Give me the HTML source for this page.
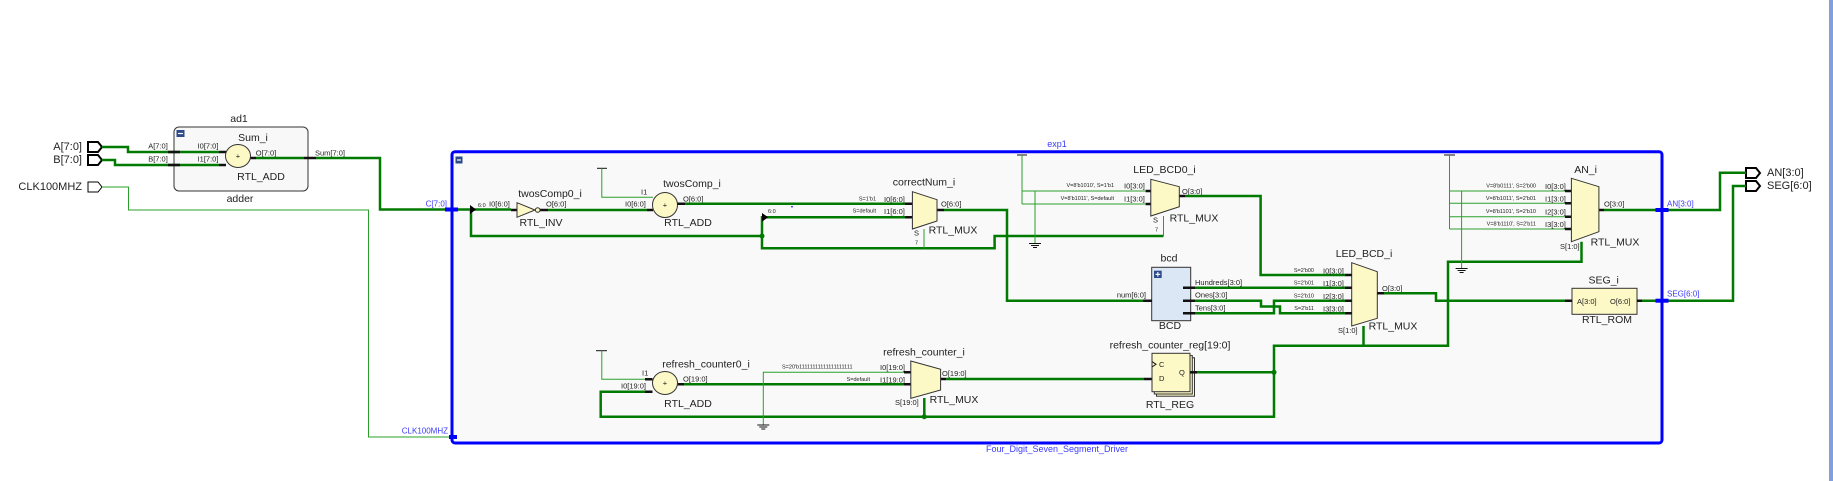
<!DOCTYPE html>
<html><head><meta charset="utf-8"><style>
html,body{margin:0;padding:0;background:#fff;}
svg{display:block;font-family:"Liberation Sans",Arial,sans-serif;}
.g{stroke:#007a00;stroke-width:2.5;fill:none;}
.t{stroke:#2aa02a;stroke-width:1;fill:none;}
.k{stroke:#111;stroke-width:2.5;fill:none;}
.k1{stroke:#111;stroke-width:1;fill:none;}
.y{fill:#fdf9c6;stroke:#333;stroke-width:1;}
text{fill:#222;dominant-baseline:central;}
.L{font-size:11px;}
.M{font-size:10.5px;}
.P{font-size:7.5px;}
.X{font-size:5.5px;}
.B{font-size:8px;fill:#3a3aff;}
.BT{font-size:9px;fill:#3a3aff;}
.c{text-anchor:middle;}
.e{text-anchor:end;}
</style></head><body>
<svg width="1833" height="481" viewBox="0 0 1833 481" xmlns="http://www.w3.org/2000/svg">
<rect x="0" y="0" width="1833" height="481" fill="#fff"/>
<rect x="1829" y="0" width="4" height="481" fill="#7f9fdf"/>

<!-- top-level ports -->
<polygon points="88,142 98,142 102,147 98,152 88,152" fill="#fff" stroke="#000" stroke-width="2"/>
<polygon points="88,155 98,155 102,160 98,165 88,165" fill="#fff" stroke="#000" stroke-width="2"/>
<polygon points="88,182 98,182 102,187 98,192 88,192" fill="#fff" stroke="#000" stroke-width="1"/>
<text class="L e" x="82" y="147">A[7:0]</text>
<text class="L e" x="82" y="160">B[7:0]</text>
<text class="L e" x="82" y="187">CLK100MHZ</text>

<polygon points="1746,168 1756,168 1760,173 1756,178 1746,178" fill="#fff" stroke="#000" stroke-width="2"/>
<polygon points="1746,181 1756,181 1760,186 1756,191 1746,191" fill="#fff" stroke="#000" stroke-width="2"/>
<text class="L" x="1767" y="173">AN[3:0]</text>
<text class="L" x="1767" y="186">SEG[6:0]</text>

<!-- ad1 -->
<rect x="174" y="127" width="134" height="64" rx="5" fill="#f8f8f8" stroke="#333" stroke-width="1"/>
<rect x="176.5" y="130" width="8" height="7" fill="#2d4a8a"/>
<line x1="178" y1="133.5" x2="183" y2="133.5" stroke="#fff" stroke-width="1.2"/>
<text class="M c" x="239" y="119">ad1</text>
<text class="M c" x="240" y="199">adder</text>
<text class="M c" x="253" y="138">Sum_i</text>
<text class="M c" x="261" y="177">RTL_ADD</text>
<path class="g" d="M102,147 H128 V152 H219"/>
<path class="g" d="M102,160 H115 V165 H219"/>
<path class="k" d="M168,152 H180 M219,152 H226 M168,165 H180 M219,165 H226 M250,158 H256 M304,158 H316"/>
<ellipse cx="238" cy="156" rx="12.5" ry="11.5" class="y"/>
<text class="P c" x="238" y="156">+</text>
<text class="P c" x="158" y="146">A[7:0]</text>
<text class="P c" x="158" y="159">B[7:0]</text>
<text class="P c" x="208" y="146">I0[7:0]</text>
<text class="P c" x="208" y="159">I1[7:0]</text>
<text class="P c" x="266" y="153">O[7:0]</text>
<text class="P c" x="330" y="153">Sum[7:0]</text>
<path class="g" d="M256,158 H304 M316,158 H380 V209.5 H452"/>
<path class="t" d="M102,187 H128.5 V210 H368.5 V437 H1021 V366 H1150"/>

<!-- exp1 -->
<rect x="452" y="151.7" width="1210" height="291.3" rx="3" fill="#f9f9f9" stroke="#0000ff" stroke-width="3"/>
<rect x="455.5" y="156.5" width="7" height="7" fill="#2d4a8a"/>
<line x1="457" y1="160" x2="461" y2="160" stroke="#fff" stroke-width="1.2"/>
<text class="BT c" x="1057" y="144">exp1</text>
<text class="BT c" x="1057" y="449">Four_Digit_Seven_Segment_Driver</text>
<text class="B e" x="447" y="204">C[7:0]</text>
<text class="B e" x="448" y="431">CLK100MHZ</text>
<text class="B" x="1667" y="204">AN[3:0]</text>
<text class="B" x="1667" y="294">SEG[6:0]</text>

<!-- C net / INV -->
<path class="g" d="M452,209.5 H511 M471,209.5 V236 H762 M762,236 V217.3 H905 M762,236 V248.3 H994.6 V236 H1163.5"/>
<polygon points="470,205 476,209.5 470,214" fill="#000"/>
<polygon points="762,213 768,217.3 762,221.7" fill="#000"/>
<circle cx="762" cy="236" r="2.5" fill="#007a00"/>
<text class="X" x="478" y="206">6:0</text>
<text class="X" x="768" y="212">6:0</text>
<text class="P" x="489" y="204">I0[6:0]</text>
<path class="k" d="M511,210 H517 M540,210 H548 M647,210 H653"/>
<polygon points="517,202.7 535,210 517,217.3" class="y"/>
<circle cx="537.7" cy="210" r="2.3" class="y"/>
<text class="P" x="546" y="204">O[6:0]</text>
<text class="M c" x="550" y="194">twosComp0_i</text>
<text class="M c" x="541" y="223">RTL_INV</text>
<path class="g" d="M548,210 H647"/>

<!-- twosComp_i -->
<line x1="597" y1="168.3" x2="607" y2="168.3" class="k1"/>
<path class="t" d="M601.8,168.3 V197.3 H653"/>
<text class="P" x="641" y="192">I1</text>
<text class="P" x="625" y="204">I0[6:0]</text>
<ellipse cx="665" cy="205" rx="12.5" ry="12.5" class="y"/>
<text class="P c" x="665" y="205">+</text>
<text class="M c" x="692" y="184">twosComp_i</text>
<text class="M c" x="688" y="223">RTL_ADD</text>
<text class="P" x="683" y="199">O[6:0]</text>
<path class="k" d="M677.5,203.7 H685 M905,203.7 H912.4 M905,217.3 H912.4 M937,210 H944"/>
<path class="g" d="M685,203.7 H905"/>
<circle cx="792" cy="206.7" r="0.8" fill="#00f"/>

<!-- correctNum_i -->
<polygon points="912.4,191.7 937,199.7 937,221 912.4,229" class="y"/>
<text class="X e" x="876" y="199.5">S=1'b1</text>
<text class="X e" x="876" y="211.7">S=default</text>
<text class="P" x="884" y="199.5">I0[6:0]</text>
<text class="P" x="884" y="211.7">I1[6:0]</text>
<text class="M c" x="924" y="182.7">correctNum_i</text>
<text class="M c" x="953" y="230.7">RTL_MUX</text>
<text class="P" x="941" y="204">O[6:0]</text>
<text class="P" x="914" y="233">S</text>
<text class="X" x="915" y="243.5">7</text>
<path class="t" d="M924,229 V248.3"/>
<path class="g" d="M944,210 H1007 V300.7 H1143"/>

<!-- LED_BCD0_i -->
<line x1="1017" y1="155" x2="1027" y2="155" class="k1"/>
<path class="t" d="M1022,155 V204 M1022,191 H1145.6 M1022,204 H1145.6 M1035,191 V243"/>
<path class="k1" d="M1029,243.5 H1041 M1031,245.5 H1039 M1033,247.5 H1037"/>
<text class="X e" x="1114" y="186">V=8'b1010', S=1'b1</text>
<text class="X e" x="1114" y="199">V=8'b1011', S=default</text>
<text class="P" x="1124" y="186">I0[3:0]</text>
<text class="P" x="1124" y="199">I1[3:0]</text>
<path class="k" d="M1145.6,191 H1150.8 M1145.6,204 H1150.8 M1179.3,196 H1185"/>
<polygon points="1150.8,179.3 1179.3,186.7 1179.3,206.7 1150.8,216" class="y"/>
<text class="M c" x="1164.5" y="170">LED_BCD0_i</text>
<text class="M c" x="1194" y="218.3">RTL_MUX</text>
<text class="P" x="1182" y="191.7">O[3:0]</text>
<text class="P" x="1153" y="220">S</text>
<text class="X" x="1155" y="230.7">7</text>
<path class="t" d="M1163.5,216 V236"/>
<path class="g" d="M1185,196 H1260.6 V275 H1345"/>

<!-- bcd -->
<rect x="1151.7" y="267.3" width="39" height="53.4" fill="#dce7f6" stroke="#333" stroke-width="1"/>
<rect x="1154" y="270.7" width="7.7" height="7.3" fill="#2d4a8a"/>
<path d="M1155.5,274.3 H1160.2 M1157.85,272 V276.6" stroke="#fff" stroke-width="1.1"/>
<text class="M c" x="1169" y="258.3">bcd</text>
<text class="M c" x="1170" y="326">BCD</text>
<text class="P e" x="1146" y="295">num[6:0]</text>
<text class="P" x="1195" y="282.3">Hundreds[3:0]</text>
<text class="P" x="1195" y="295">Ones[3:0]</text>
<text class="P" x="1195" y="308">Tens[3:0]</text>
<path class="k" d="M1143,300.7 H1152 M1183,287.7 H1195 M1183,300.7 H1195 M1183,313.3 H1195"/>
<path class="g" d="M1195,287.7 H1345 M1195,300.7 H1261 V306.5 H1280 V313.3 H1345 M1195,313.3 H1274 V300.7 H1345"/>

<!-- LED_BCD_i -->
<polygon points="1351.7,262.7 1377.3,271.7 1377.3,318.3 1351.7,326" class="y"/>
<path class="k" d="M1345,275 H1351.7 M1345,287.7 H1351.7 M1345,300.7 H1351.7 M1345,313.3 H1351.7 M1377.3,293.3 H1384"/>
<text class="X e" x="1314" y="271">S=2'b00</text>
<text class="X e" x="1314" y="283.5">S=2'b01</text>
<text class="X e" x="1314" y="296.5">S=2'b10</text>
<text class="X e" x="1314" y="309">S=2'b11</text>
<text class="P" x="1323" y="271">I0[3:0]</text>
<text class="P" x="1323" y="283.5">I1[3:0]</text>
<text class="P" x="1323" y="296.5">I2[3:0]</text>
<text class="P" x="1323" y="309">I3[3:0]</text>
<text class="M c" x="1364" y="254">LED_BCD_i</text>
<text class="M c" x="1393" y="326.7">RTL_MUX</text>
<text class="P" x="1338" y="330.7">S[1:0]</text>
<text class="P" x="1382" y="288.3">O[3:0]</text>
<path class="g" d="M1384,293.3 H1436 V300.7 H1565"/>
<path class="g" d="M1363.5,326 V345.7 M1191.6,372.3 H1274 V345.7 H1448 V261.7 H1581.5 V241.7 M1274,372.3 V416.7 H600.7 V391.7 H652 M924.3,398 V416.7"/>
<circle cx="1274" cy="372.3" r="2.5" fill="#007a00"/>
<circle cx="924.3" cy="416.7" r="2.5" fill="#007a00"/>

<!-- AN_i -->
<line x1="1444" y1="155" x2="1455" y2="155" class="k1"/>
<path class="t" d="M1449.5,155 V229 M1449.5,191 H1565 M1449.5,203.3 H1565 M1449.5,216.7 H1565 M1449.5,229 H1565 M1461.6,191 V268"/>
<path class="k1" d="M1455.6,268.5 H1467.6 M1457.6,270.5 H1465.6 M1459.6,272.5 H1463.6"/>
<text class="X e" x="1536" y="186.5">V=8'b0111', S=2'b00</text>
<text class="X e" x="1536" y="199">V=8'b1011', S=2'b01</text>
<text class="X e" x="1536" y="212">V=8'b1101', S=2'b10</text>
<text class="X e" x="1536" y="224.5">V=8'b1110', S=2'b11</text>
<text class="P" x="1545" y="186.5">I0[3:0]</text>
<text class="P" x="1545" y="199">I1[3:0]</text>
<text class="P" x="1545" y="212">I2[3:0]</text>
<text class="P" x="1545" y="224.5">I3[3:0]</text>
<path class="k" d="M1565,191 H1571.4 M1565,203.3 H1571.4 M1565,216.7 H1571.4 M1565,229 H1571.4 M1598.9,210 H1604"/>
<polygon points="1571.4,178.3 1598.9,186.7 1598.9,231.7 1571.4,241.7" class="y"/>
<text class="M c" x="1585.6" y="170">AN_i</text>
<text class="M c" x="1615" y="242.7">RTL_MUX</text>
<text class="P" x="1560" y="246.7">S[1:0]</text>
<text class="P" x="1604" y="204">O[3:0]</text>
<path class="g" d="M1604,210 H1720 V172.7 H1746"/>

<!-- SEG_i -->
<rect x="1572" y="288.3" width="65" height="26" class="y"/>
<path class="k" d="M1565,300.7 H1572 M1637,300.7 H1642"/>
<text class="M c" x="1603.7" y="280.7">SEG_i</text>
<text class="M c" x="1607" y="320">RTL_ROM</text>
<text class="P" x="1577" y="301.7">A[3:0]</text>
<text class="P" x="1610" y="301.7">O[6:0]</text>
<path class="g" d="M1642,300.7 H1733 V186 H1746"/>

<!-- blue port markers -->
<rect x="445" y="207.5" width="13" height="4" fill="#0000ff"/>
<rect x="1655.5" y="208" width="13" height="4" fill="#0000ff"/>
<rect x="1655.5" y="298.7" width="13" height="4" fill="#0000ff"/>
<rect x="449" y="435" width="8" height="4" fill="#0000ff"/>

<!-- refresh_counter0_i -->
<line x1="596" y1="350.7" x2="607" y2="350.7" class="k1"/>
<path class="t" d="M601.8,350.7 V379.3 H652"/>
<text class="P" x="642" y="373">I1</text>
<text class="P" x="621" y="386">I0[19:0]</text>
<path class="k" d="M645,391.7 H652.5 M645,379.3 H652.5 M677.7,384.3 H684"/>
<ellipse cx="665" cy="383" rx="12.5" ry="11.5" class="y"/>
<text class="P c" x="665" y="383">+</text>
<text class="M c" x="706" y="364.3">refresh_counter0_i</text>
<text class="M c" x="688" y="404">RTL_ADD</text>
<text class="P" x="683" y="379">O[19:0]</text>
<path class="g" d="M684,384.3 H904"/>

<!-- refresh_counter_i -->
<path class="t" d="M763.3,425 V372.3 H904"/>
<path class="k1" d="M757.3,425 H769.3 M759.3,427 H767.3 M761.3,429 H765.3"/>
<text class="X" x="782" y="367.3">S=20'b11111111111111111111</text>
<text class="X e" x="870" y="380">S=default</text>
<text class="P" x="880" y="367.3">I0[19:0]</text>
<text class="P" x="880" y="380">I1[19:0]</text>
<path class="k" d="M904,372.3 H910.8 M904,384.3 H910.8 M940.6,379 H946 M1144,379 H1152"/>
<polygon points="910.8,361 940.6,369.3 940.6,390 910.8,398.3" class="y"/>
<text class="M c" x="924" y="352.7">refresh_counter_i</text>
<text class="M c" x="954" y="400">RTL_MUX</text>
<text class="P" x="895" y="402.3">S[19:0]</text>
<text class="P" x="942" y="373.3">O[19:0]</text>
<path class="g" d="M946,379 H1144"/>

<!-- refresh_counter_reg -->
<rect x="1156.5" y="357.8" width="38" height="38.4" class="y"/>
<rect x="1154.3" y="355.6" width="38" height="38.4" class="y"/>
<rect x="1152" y="353.3" width="38" height="38.4" class="y"/>
<path d="M1152,361.5 L1156,364.3 L1152,367" fill="none" stroke="#111" stroke-width="1"/>
<text class="P" x="1159" y="364.3">C</text>
<text class="P" x="1159" y="378.3">D</text>
<text class="P" x="1179" y="372.7">Q</text>
<text class="M c" x="1170" y="345.7">refresh_counter_reg[19:0]</text>
<text class="M c" x="1170" y="405">RTL_REG</text>
<path class="k" d="M1190,372.3 H1197"/>
</svg>
</body></html>
